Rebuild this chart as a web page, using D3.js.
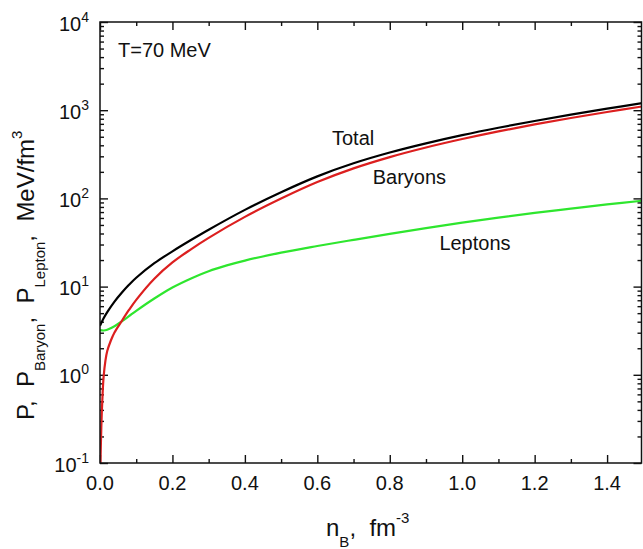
<!DOCTYPE html>
<html>
<head>
<meta charset="utf-8">
<script src="https://cdn.jsdelivr.net/npm/d3@7"></script>
<style>
  html, body { margin: 0; padding: 0; background: #fff; }
  svg { display: block; }
  text { font-family: "Liberation Sans", Arial, sans-serif; fill: #111; }
</style>
</head>
<body>
<svg id="chart" width="643" height="549"></svg>
<script>
// Pressure vs baryon density at T = 70 MeV (MeV/fm^3)
const totalN = [0, 0.01, 0.02, 0.04, 0.06, 0.08, 0.1, 0.15, 0.2, 0.25, 0.3, 0.4, 0.5, 0.6, 0.7, 0.8, 0.9, 1.0, 1.1, 1.2, 1.3, 1.4, 1.5];
const totalP = [3.6, 4.37, 5.13, 6.76, 8.51, 10.47, 12.59, 18.41, 25.12, 33.5, 44.16, 74.13, 117.5, 177.8, 250, 331.1, 420.7, 521.2, 632.4, 755.1, 891.3, 1042, 1208];

const baryonN = [0.0012, 0.0025, 0.005, 0.0075, 0.01, 0.015, 0.02, 0.03, 0.04, 0.06, 0.08, 0.1, 0.15, 0.2, 0.25, 0.3, 0.4, 0.5, 0.6, 0.7, 0.8, 0.9, 1.0, 1.1, 1.2, 1.3, 1.4, 1.5];
const baryonP = [0.1, 0.17, 0.38, 0.65, 0.95, 1.45, 1.86, 2.45, 3.02, 4.07, 5.43, 7.08, 12.3, 18.8, 26.3, 35.7, 61.7, 99.5, 153.1, 218.8, 293.8, 377.6, 471, 575.4, 690.2, 816.6, 955, 1107];

const leptonN = [0, 0.01, 0.02, 0.04, 0.06, 0.08, 0.1, 0.15, 0.2, 0.25, 0.3, 0.35, 0.4, 0.5, 0.6, 0.7, 0.8, 0.9, 1.0, 1.1, 1.2, 1.3, 1.4, 1.5];
const leptonP = [3.21, 3.18, 3.24, 3.55, 4.03, 4.62, 5.31, 7.33, 9.77, 12.3, 14.96, 17.38, 19.72, 24.27, 28.84, 33.88, 39.63, 46.03, 53.09, 60.53, 68.39, 76.56, 85.5, 94.4];

const xMajor = [0, 0.2, 0.4, 0.6, 0.8, 1.0, 1.2, 1.4];
const xMinor = [0.1, 0.3, 0.5, 0.7, 0.9, 1.1, 1.3];
const xLabels = ["0.0", "0.2", "0.4", "0.6", "0.8", "1.0", "1.2", "1.4"];
const yExponents = [-1, 0, 1, 2, 3, 4];

const curveLabels = [
  { text: "Total", n: 0.6405, p: 403 },
  { text: "Baryons", n: 0.753, p: 144.5 },
  { text: "Leptons", n: 0.937, p: 26 }
];

const plot = { left: 100, right: 641.5, top: 22, bottom: 463 };

const svg = d3.select("#chart");
const x = d3.scaleLinear().domain([0, 1.495]).range([plot.left, plot.right]);
const y = d3.scaleLog().domain([0.1, 10000]).range([plot.bottom, plot.top]);

svg.append("defs").append("clipPath").attr("id", "plotClip")
  .append("rect")
  .attr("x", plot.left).attr("y", plot.top)
  .attr("width", plot.right - plot.left).attr("height", plot.bottom - plot.top);

// log minor tick values
const yMinor = [];
for (let e = -1; e < 4; e++) for (let k = 2; k <= 9; k++) yMinor.push(k * Math.pow(10, e));
const yMajor = yExponents.map(e => Math.pow(10, e));

const axisStyle = g => {
  g.select(".domain").remove();
  g.selectAll("line").attr("stroke", "#111").attr("stroke-width", 1.4);
};

// Ticks point inward on all four sides
svg.append("g").attr("transform", `translate(0,${plot.bottom})`)
  .call(d3.axisBottom(x).tickValues(xMajor).tickSize(-8).tickFormat("")).call(axisStyle);
svg.append("g").attr("transform", `translate(0,${plot.bottom})`)
  .call(d3.axisBottom(x).tickValues(xMinor).tickSize(-4).tickFormat("")).call(axisStyle);
svg.append("g").attr("transform", `translate(0,${plot.top})`)
  .call(d3.axisTop(x).tickValues(xMajor).tickSize(-8).tickFormat("")).call(axisStyle);
svg.append("g").attr("transform", `translate(0,${plot.top})`)
  .call(d3.axisTop(x).tickValues(xMinor).tickSize(-4).tickFormat("")).call(axisStyle);

svg.append("g").attr("transform", `translate(${plot.left},0)`)
  .call(d3.axisLeft(y).tickValues(yMajor).tickSize(-8).tickFormat("")).call(axisStyle);
svg.append("g").attr("transform", `translate(${plot.left},0)`)
  .call(d3.axisLeft(y).tickValues(yMinor).tickSize(-4).tickFormat("")).call(axisStyle);
svg.append("g").attr("transform", `translate(${plot.right},0)`)
  .call(d3.axisRight(y).tickValues(yMajor).tickSize(-8).tickFormat("")).call(axisStyle);
svg.append("g").attr("transform", `translate(${plot.right},0)`)
  .call(d3.axisRight(y).tickValues(yMinor).tickSize(-4).tickFormat("")).call(axisStyle);

// Curves
const line = d3.line().x(d => x(d[0])).y(d => y(d[1])).curve(d3.curveCatmullRom.alpha(0.5));
const series = [
  { n: leptonN, p: leptonP, color: "#2ee62e" },
  { n: baryonN, p: baryonP, color: "#dc1f1f" },
  { n: totalN, p: totalP, color: "#000000" }
];
const curves = svg.append("g").attr("clip-path", "url(#plotClip)");
series.forEach(s => {
  curves.append("path")
    .datum(s.n.map((v, i) => [v, s.p[i]]))
    .attr("fill", "none")
    .attr("stroke", s.color)
    .attr("stroke-width", 2.2)
    .attr("stroke-linejoin", "round")
    .attr("d", line);
});

// Frame
svg.append("rect")
  .attr("x", plot.left).attr("y", plot.top)
  .attr("width", plot.right - plot.left).attr("height", plot.bottom - plot.top)
  .attr("fill", "none").attr("stroke", "#111").attr("stroke-width", 1.5);

// X tick labels
svg.append("g").selectAll("text").data(xMajor).join("text")
  .attr("x", d => x(d)).attr("y", plot.bottom + 27)
  .attr("text-anchor", "middle").attr("font-size", 20)
  .text((d, i) => xLabels[i]);

// Y tick labels: 10 with superscript exponent
const yl = svg.append("g").selectAll("text").data(yExponents).join("text")
  .attr("x", 89).attr("y", d => y(Math.pow(10, d)) + 8.5)
  .attr("text-anchor", "end").attr("font-size", 20);
yl.append("tspan").text("10");
yl.append("tspan").attr("font-size", 14).attr("dy", -9).text(d => String(d));

// Axis titles
const xt = svg.append("text").attr("x", 326).attr("y", 536).attr("font-size", 24);
xt.append("tspan").text("n");
xt.append("tspan").attr("font-size", 15).attr("dy", 11).text("B");
xt.append("tspan").attr("dy", -11).text(",\u00a0\u00a0fm");
xt.append("tspan").attr("font-size", 15).attr("dy", -13).text("-3");

const yt = svg.append("text").attr("transform", "translate(34,420) rotate(-90)").attr("font-size", 24);
yt.append("tspan").text("P,\u00a0\u00a0P");
yt.append("tspan").attr("font-size", 15).attr("dy", 11).text("Baryon");
yt.append("tspan").attr("dy", -11).text(",\u00a0\u00a0P");
yt.append("tspan").attr("font-size", 15).attr("dy", 11).text("Lepton");
yt.append("tspan").attr("dy", -11).text(",\u00a0\u00a0MeV/fm");
yt.append("tspan").attr("font-size", 15).attr("dy", -12).text("3");

// Annotations
svg.append("text").attr("x", 118).attr("y", 57).attr("font-size", 20).text("T=70 MeV");
svg.append("g").selectAll("text").data(curveLabels).join("text")
  .attr("x", d => x(d.n)).attr("y", d => y(d.p))
  .attr("font-size", 20).text(d => d.text);
</script>
</body>
</html>
